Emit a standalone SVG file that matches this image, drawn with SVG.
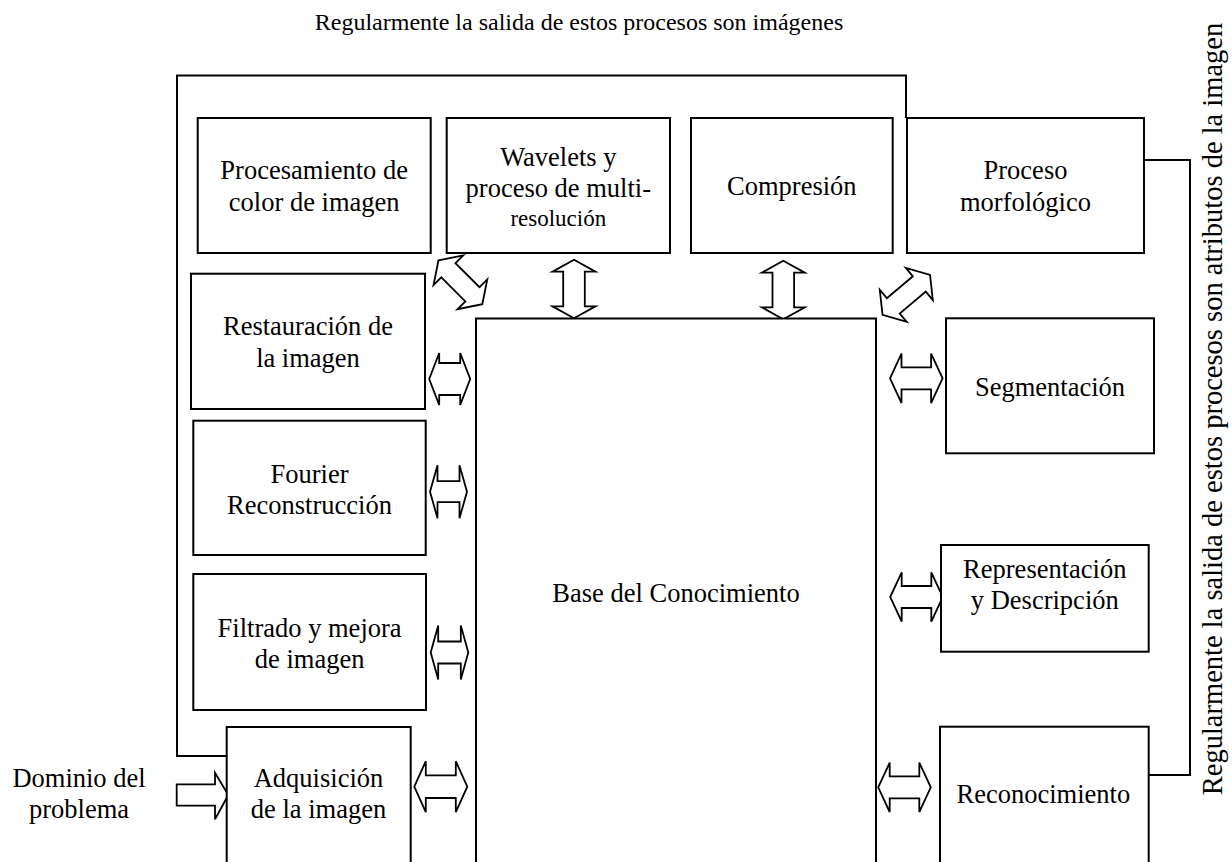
<svg xmlns="http://www.w3.org/2000/svg" width="1232" height="862" viewBox="0 0 1232 862">
<style>
.box{fill:#fff;stroke:#000;stroke-width:2}
.lbl{font-family:"Liberation Serif","Times New Roman",serif;font-size:26.5px;text-anchor:middle;fill:#000}
.arr{fill:#fff;stroke:#000;stroke-width:1.8;stroke-linejoin:miter}
.ln{fill:none;stroke:#000;stroke-width:2}
</style>
<defs>
<path id="dh" d="M -26.3,0 L -14.8,-24.7 L -14.8,-11 L 14.8,-11 L 14.8,-24.7 L 26.3,0 L 14.8,24.7 L 14.8,11 L -14.8,11 L -14.8,24.7 Z"/>
<path id="dv" d="M -29.3,0 L -17.3,-21.5 L -17.3,-10.8 L 17.3,-10.8 L 17.3,-21.5 L 29.3,0 L 17.3,21.5 L 17.3,10.8 L -17.3,10.8 L -17.3,21.5 Z"/>
<path id="dd" d="M -31,0 L -17,-21 L -17,-10 L 17,-10 L 17,-21 L 31,0 L 17,21 L 17,10 L -17,10 L -17,21 Z"/>
</defs>

<text class="lbl" x="579" y="30" style="font-size:24px">Regularmente la salida de estos procesos son imágenes</text>
<text class="lbl" transform="translate(1221.7,409) rotate(-90)" style="font-size:28.5px">Regularmente la salida de estos procesos son atributos de la imagen</text>

<g id="connectors">
<polyline class="ln" points="229,756 177,756 177,75.5 906,75.5 906,118"/>
<polyline class="ln" points="1144,160 1190,160 1190,775 1145,775"/>
<path class="arr" d="M 176.7,784.3 L 215,784.3 L 215,772.7 L 228.3,795 L 215,819.3 L 215,805.7 L 176.7,805.7 Z"/>
<path class="arr" transform="translate(449.7,379)" d="M -20.5,0 L -10.5,-26 L -10.5,-16 L 10.5,-16 L 10.5,-26 L 20.5,0 L 10.5,26 L 10.5,16 L -10.5,16 L -10.5,26 Z"/>
<path class="arr" transform="translate(448.5,491.7)" d="M -18.5,0 L -11,-26.5 L -11,-10.5 L 11,-10.5 L 11,-26.5 L 18.5,0 L 11,26.5 L 11,10.5 L -11,10.5 L -11,26.5 Z"/>
<path class="arr" transform="translate(449.5,652.5)" d="M -18.8,0 L -11.3,-27 L -11.3,-11 L 11.3,-11 L 11.3,-27 L 18.8,0 L 11.3,27 L 11.3,11 L -11.3,11 L -11.3,27 Z"/>
<path class="arr" transform="translate(440.8,786.7)" d="M -26.5,0 L -15,-25.5 L -15,-11.3 L 15,-11.3 L 15,-25.5 L 26.5,0 L 15,25.5 L 15,11.3 L -15,11.3 L -15,25.5 Z"/>
<use href="#dh" class="arr" transform="translate(916.3,378.3)"/>
<use href="#dh" class="arr" transform="translate(916.5,597)"/>
<use href="#dh" class="arr" transform="translate(904.5,787.3)"/>
<use href="#dv" class="arr" transform="translate(574,289) rotate(90)"/>
<use href="#dv" class="arr" transform="translate(783.3,290) rotate(90)"/>
<use href="#dd" class="arr" transform="translate(460.4,282.3) rotate(45)"/>
<use href="#dd" class="arr" transform="translate(906.3,294.9) rotate(-40)"/>
</g>

<g id="n-color">
<rect class="box" x="197.7" y="118" width="233" height="135"/>
<text class="lbl" x="314.2" y="179">Procesamiento de</text>
<text class="lbl" x="314.2" y="210.7">color de imagen</text>
</g>
<g id="n-wavelets">
<rect class="box" x="446.7" y="118" width="223.3" height="135"/>
<text class="lbl" x="558.3" y="166">Wavelets y</text>
<text class="lbl" x="558.3" y="196.7">proceso de multi-</text>
<text class="lbl" x="558.3" y="226" style="font-size:23px">resolución</text>
</g>
<g id="n-compresion">
<rect class="box" x="691" y="118" width="201.7" height="135"/>
<text class="lbl" x="791.8" y="195">Compresión</text>
</g>
<g id="n-morfologico">
<rect class="box" x="907" y="118" width="237" height="135"/>
<text class="lbl" x="1025.5" y="179">Proceso</text>
<text class="lbl" x="1025.5" y="210.7">morfológico</text>
</g>
<g id="n-restauracion">
<rect class="box" x="191" y="273.7" width="234" height="135.3"/>
<text class="lbl" x="308" y="335">Restauración de</text>
<text class="lbl" x="308" y="366.7">la imagen</text>
</g>
<g id="n-fourier">
<rect class="box" x="193.3" y="420.7" width="232.4" height="134.3"/>
<text class="lbl" x="309.5" y="482.5">Fourier</text>
<text class="lbl" x="309.5" y="514">Reconstrucción</text>
</g>
<g id="n-filtrado">
<rect class="box" x="193.3" y="574" width="232.7" height="136"/>
<text class="lbl" x="309.6" y="636.7">Filtrado y mejora</text>
<text class="lbl" x="309.6" y="668">de imagen</text>
</g>
<g id="n-adquisicion">
<rect class="box" x="226.7" y="727" width="184" height="150"/>
<text class="lbl" x="318.5" y="786.7">Adquisición</text>
<text class="lbl" x="318.5" y="818.3">de la imagen</text>
</g>
<g id="n-dominio">
<text class="lbl" x="79" y="786.7">Dominio del</text>
<text class="lbl" x="79" y="818.3">problema</text>
</g>
<g id="n-base">
<rect class="box" x="476" y="318.5" width="400" height="560"/>
<text class="lbl" x="676" y="602">Base del Conocimiento</text>
</g>
<g id="n-segmentacion">
<rect class="box" x="946" y="318.3" width="208" height="135"/>
<text class="lbl" x="1050" y="396">Segmentación</text>
</g>
<g id="n-representacion">
<rect class="box" x="941" y="545" width="207.7" height="106.7"/>
<text class="lbl" x="1044.8" y="578">Representación</text>
<text class="lbl" x="1044.8" y="609">y Descripción</text>
</g>
<g id="n-reconocimiento">
<rect class="box" x="940" y="726.7" width="208.7" height="150"/>
<text class="lbl" x="1043.3" y="803.3">Reconocimiento</text>
</g>
</svg>
